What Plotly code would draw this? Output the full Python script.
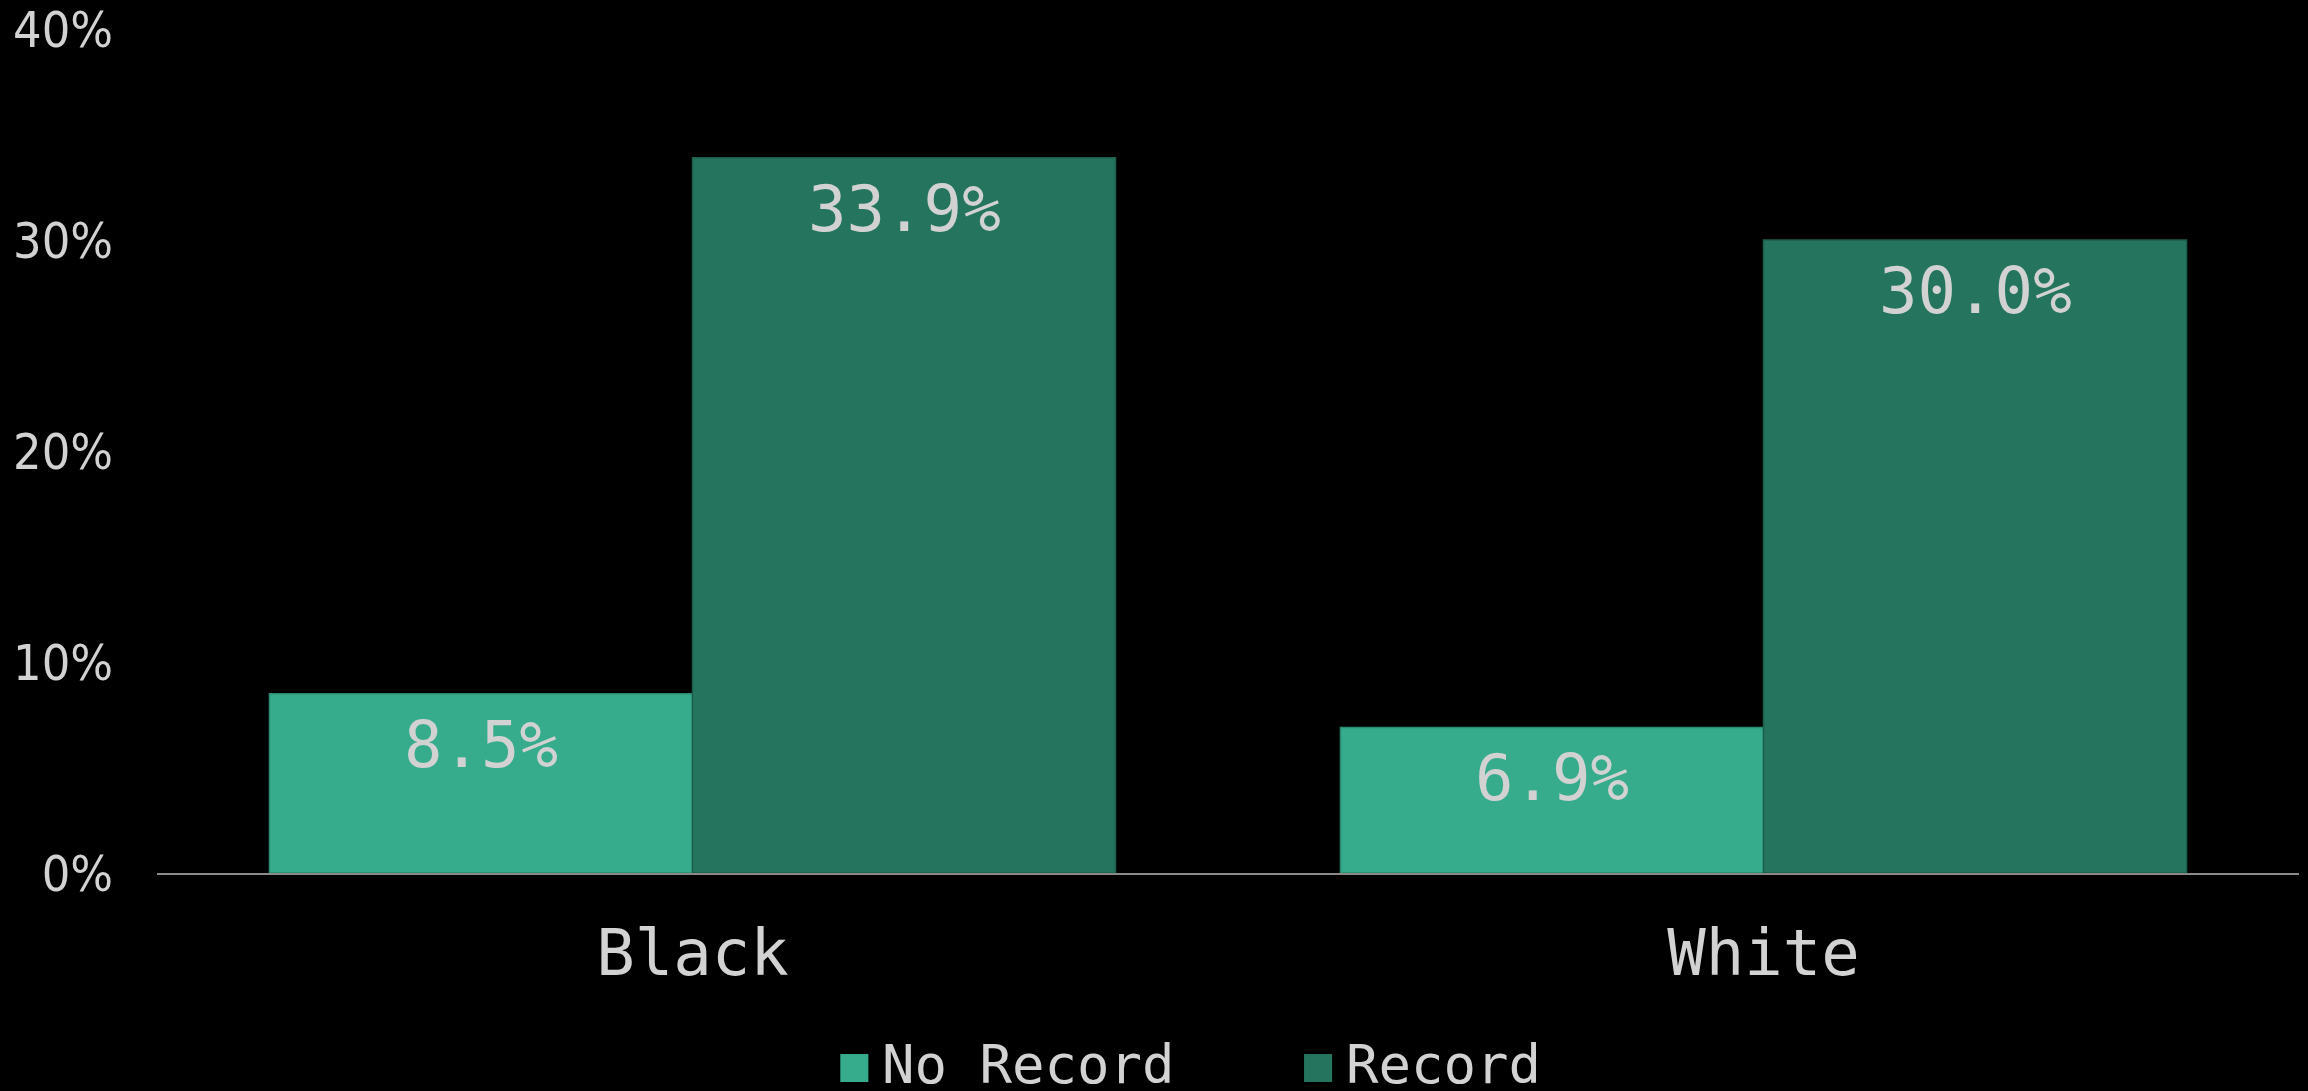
import plotly.graph_objects as go

# Share of applicants receiving a callback, by race and criminal record
groups = ["Black", "White"]
series_names = ["No Record", "Record"]
no_record = [8.5, 6.9]
record = [33.9, 30.0]
y_ticks = [0, 10, 20, 30, 40]
series_colors = ["#36ac8c", "#25755e"]
edge_colors = ["#2a8a70", "#1d5e4b"]

text_color = "#d2d2d2"
mono = "DejaVu Sans Mono, monospace"
tick_font = "DejaVu Sans Condensed, DejaVu Sans, sans-serif"

# Plot-area geometry used to place value labels over each bar in a group
fig_w, fig_h = 2308, 1091
margin = dict(l=157, r=9, t=29, b=218)
bargap = 0.21
plot_w = fig_w - margin["l"] - margin["r"]
cat_px = plot_w / len(groups)
bar_px = cat_px * (1 - bargap) / len(series_names)

fig = go.Figure()
all_series = [no_record, record]
for k, (name, vals, col, edge) in enumerate(zip(series_names, all_series, series_colors, edge_colors)):
    fig.add_trace(go.Bar(
        x=groups, y=vals, name=name,
        marker=dict(color=col, line=dict(color=edge, width=1.5)),
        showlegend=False,
    ))
    # value label just inside the top of each bar
    shift = (k - (len(series_names) - 1) / 2) * bar_px
    for g, v in zip(groups, vals):
        fig.add_annotation(
            x=g, y=v, xref="x", yref="y",
            text=f"{v:.1f}%", showarrow=False,
            xanchor="center", yanchor="middle",
            xshift=shift, yshift=-51,
            font=dict(family=mono, size=64, color=text_color),
        )

# Legend row drawn below the axis: colour square followed by series name
legend_x = [0.319, 0.5355]
for name, col, lx in zip(series_names, series_colors, legend_x):
    fig.add_shape(type="rect", xref="paper", yref="paper",
                  x0=lx, x1=lx + 0.0131, y0=-0.2476, y1=-0.2145,
                  fillcolor=col, line=dict(width=0))
    fig.add_annotation(text=name, xref="paper", yref="paper",
                       x=lx + 0.0187, y=-0.227, xanchor="left", yanchor="middle",
                       showarrow=False,
                       font=dict(family=mono, size=54, color=text_color))

fig.update_layout(
    width=fig_w, height=fig_h,
    margin=margin,
    paper_bgcolor="#000000", plot_bgcolor="#000000",
    barmode="group", bargap=bargap, bargroupgap=0,
)
fig.update_xaxes(
    showline=True, linecolor="#8a8a8a", linewidth=2,
    showgrid=False, ticks="", automargin=False,
    tickfont=dict(family=mono, size=64, color=text_color),
    ticklabelstandoff=23,
)
fig.update_yaxes(
    range=[0, 40], tickmode="array", tickvals=y_ticks,
    ticktext=[f"{t}%" for t in y_ticks],
    showgrid=False, zeroline=False, showline=False, ticks="",
    automargin=False,
    tickfont=dict(family=tick_font, size=50, color=text_color),
    ticklabelstandoff=43, ticklabeloverflow="allow",
)

fig.write_html("out.html")
